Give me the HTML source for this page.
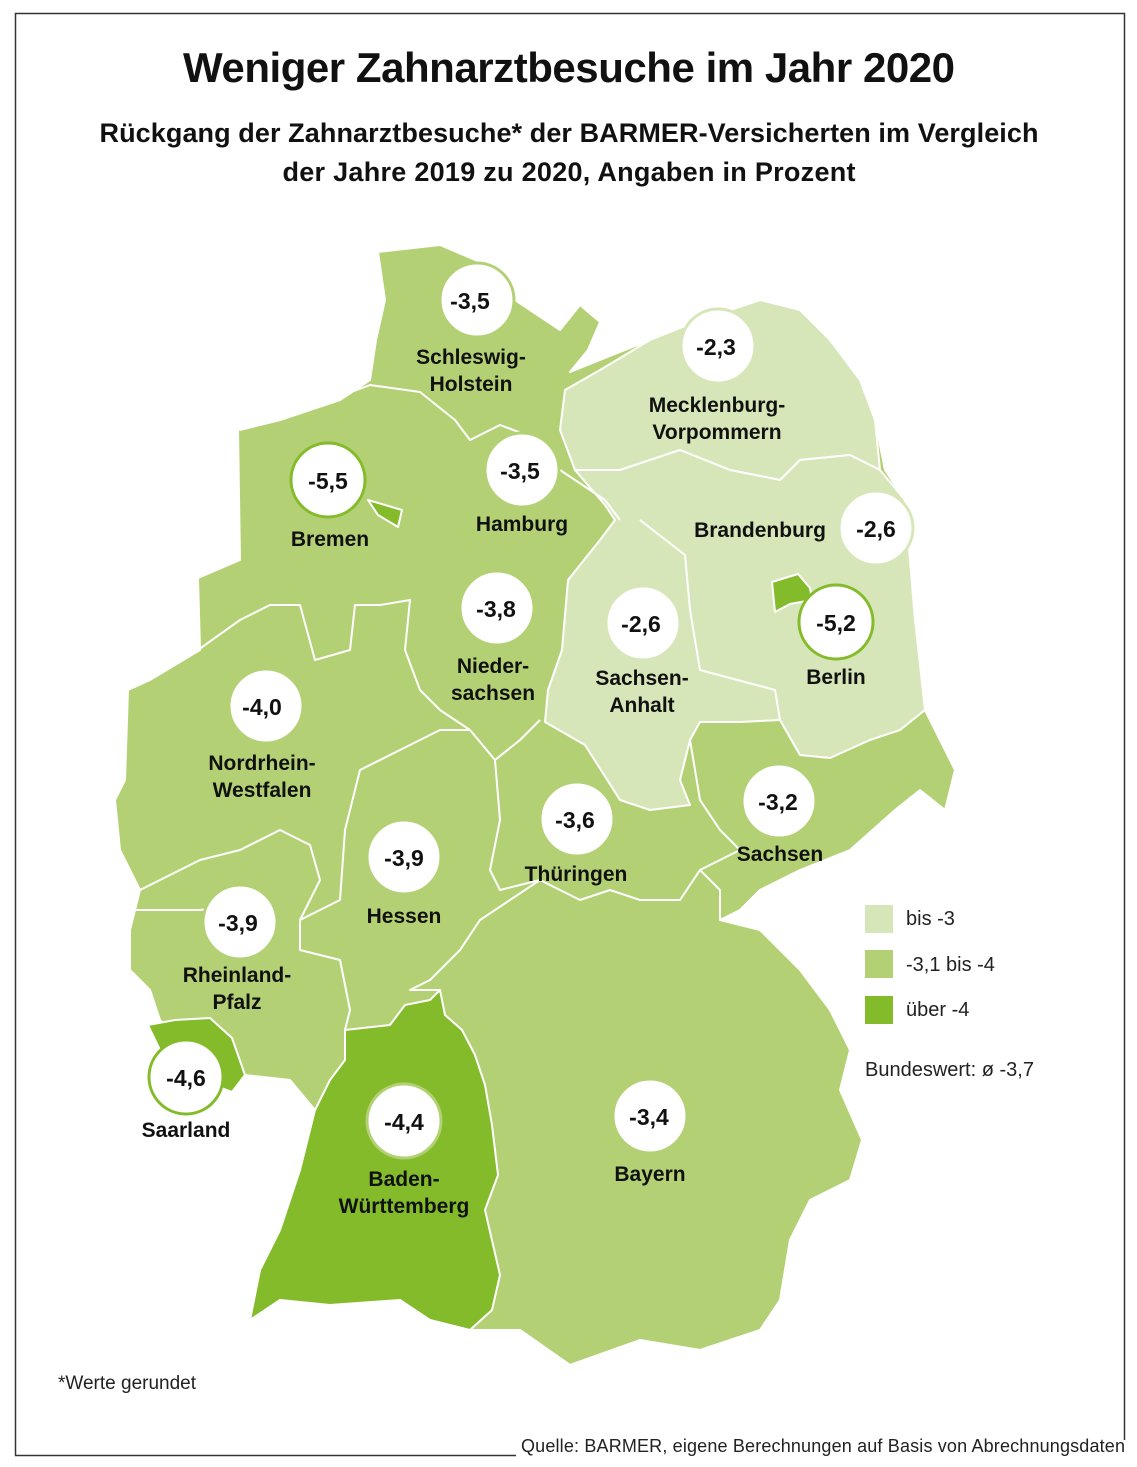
<!DOCTYPE html>
<html><head><meta charset="utf-8"><style>
html,body{margin:0;padding:0;background:#fff;}
svg{display:block;font-family:"Liberation Sans",sans-serif;}
.lb{font-weight:bold;font-size:21px;fill:#111;text-anchor:middle;}
.nm{font-weight:bold;font-size:23px;fill:#111;text-anchor:middle;}
</style></head><body>
<svg width="1137" height="1467" viewBox="0 0 1137 1467">
<rect width="1137" height="1467" fill="#fff"/>
<path d="M15.5 1455.5 V13.5 H1124.5 V1440" fill="none" stroke="#333" stroke-width="1.5"/>
<line x1="15" y1="1455.5" x2="516" y2="1455.5" stroke="#333" stroke-width="1.5"/>
<text x="521" y="1452" font-size="18" textLength="604" fill="#222">Quelle: BARMER, eigene Berechnungen auf Basis von Abrechnungsdaten</text>
<text x="569" y="82" font-size="42" font-weight="bold" text-anchor="middle" textLength="772" fill="#111">Weniger Zahnarztbesuche im Jahr 2020</text>
<text x="569" y="142" font-size="27" font-weight="bold" text-anchor="middle" textLength="939" fill="#111">Rückgang der Zahnarztbesuche* der BARMER-Versicherten im Vergleich</text>
<text x="569" y="181" font-size="27" font-weight="bold" text-anchor="middle" textLength="573" fill="#111">der Jahre 2019 zu 2020, Angaben in Prozent</text>

<g stroke="#fff" stroke-width="2" stroke-linejoin="round">
<path fill="#b3d174" d="M378 252 L440 245 L480 262 L515 300 L560 330 L580 305 L600 322 L588 350 L570 372 L600 360 L650 340 L700 320 L760 300 L800 310 L830 340 L860 380 L875 420 L885 470 L905 500 L910 560 L915 620 L925 710 L940 740 L955 770 L945 810 L920 790 L895 810 L850 850 L800 870 L760 890 L740 910 L720 920 L760 930 L800 970 L830 1010 L850 1050 L840 1090 L862 1140 L850 1180 L810 1200 L790 1240 L780 1300 L760 1330 L700 1350 L640 1340 L570 1365 L520 1330 L470 1330 L430 1320 L400 1300 L330 1305 L280 1300 L250 1320 L260 1270 L280 1230 L300 1170 L315 1110 L290 1080 L245 1075 L230 1045 L180 1040 L160 1020 L150 990 L130 970 L130 930 L140 890 L120 850 L115 800 L125 780 L128 690 L150 680 L200 650 L198 578 L240 560 L238 430 L280 420 L340 400 L370 380 L376 340 L385 300 Z"/>
<path fill="#d7e6b8" d="M565 390 L600 370 L650 340 L700 320 L760 300 L800 310 L830 340 L860 380 L875 420 L880 470 L850 455 L800 460 L780 480 L730 470 L680 450 L620 470 L575 470 L560 430 Z"/>
<path fill="#d7e6b8" d="M575 470 L620 470 L680 450 L730 470 L780 480 L800 460 L850 455 L880 470 L905 500 L910 560 L915 620 L925 710 L900 730 L870 740 L830 758 L800 755 L780 720 L740 722 L700 722 L690 740 L680 780 L690 805 L650 810 L620 800 L585 745 L545 722 L548 690 L562 650 L568 580 L600 540 L615 520 L605 505 Z"/>
<path fill="none" d="M640 520 L685 555 L690 610 L700 670 L775 690 L780 720"/>
<path fill="#84bb2a" d="M345 1030 L390 1025 L405 1005 L430 1000 L440 990 L445 1015 L462 1030 L475 1055 L485 1085 L492 1125 L498 1175 L485 1210 L500 1275 L492 1310 L470 1330 L430 1320 L400 1300 L330 1305 L280 1300 L250 1320 L260 1270 L280 1230 L300 1170 L315 1110 L330 1080 L345 1060 Z"/>
<path fill="#84bb2a" d="M148 1025 L175 1020 L210 1018 L232 1038 L245 1075 L232 1092 L205 1082 L175 1078 L160 1050 Z"/>
<path fill="#84bb2a" d="M772 582 L798 574 L810 588 L812 600 L790 604 L775 612 Z"/>
<path fill="#84bb2a" d="M368 500 L402 510 L398 527 L378 515 Z"/>
<path fill="none" d="M240 430 L280 420 L330 400 L370 385 L420 392 L455 420 L470 440 L500 425 L540 440 L560 470 L605 500 L620 520"/>
<path fill="none" d="M198 650 L240 620 L270 605 L300 605 L315 660 L350 650 L355 605 L380 605 L410 600 L405 650 L420 690 L440 710 L470 730 L495 760 L520 740 L540 720"/>
<path fill="none" d="M140 890 L200 860 L240 850 L280 830 L310 845 L320 880 L300 920 L300 950 L340 960 L350 1010 L345 1030"/>
<path fill="none" d="M130 910 L200 910 L240 905"/>
<path fill="none" d="M300 920 L340 900 L345 830 L360 770 L400 750 L440 730 L470 730"/>
<path fill="none" d="M495 760 L500 820 L490 870 L500 890 L540 880 L580 900 L610 890 L640 900 L680 900 L700 870 L740 850 L720 830 L700 800 L690 740"/>
<path fill="none" d="M540 880 L510 900 L480 920 L460 950 L430 980 L410 990 L440 990"/>
<path fill="none" d="M700 870 L720 890 L720 920"/>
</g>

<g fill="#fff" stroke-width="3">
<circle cx="477" cy="300" r="37" stroke="#b3d174"/>
<circle cx="718" cy="346" r="37" stroke="#d7e6b8"/>
<circle cx="328" cy="480" r="37" stroke="#84bb2a"/>
<circle cx="522" cy="470" r="37" stroke="#b3d174"/>
<circle cx="876" cy="528" r="37" stroke="#d7e6b8"/>
<circle cx="836" cy="622" r="37" stroke="#84bb2a"/>
<circle cx="497" cy="608" r="37" stroke="#b3d174"/>
<circle cx="643" cy="623" r="37" stroke="#d7e6b8"/>
<circle cx="266" cy="706" r="37" stroke="#b3d174"/>
<circle cx="577" cy="819" r="37" stroke="#b3d174"/>
<circle cx="779" cy="801" r="37" stroke="#b3d174"/>
<circle cx="404" cy="857" r="37" stroke="#b3d174"/>
<circle cx="240" cy="922" r="37" stroke="#b3d174"/>
<circle cx="186" cy="1077" r="37" stroke="#84bb2a"/>
<circle cx="404" cy="1121" r="37" stroke="#b3d174"/>
<circle cx="650" cy="1116" r="37" stroke="#b3d174"/>
</g>
<g class="nm">
<text class="nm" x="470" y="309">-3,5</text>
<text class="nm" x="716" y="355">-2,3</text>
<text class="nm" x="328" y="489">-5,5</text>
<text class="nm" x="520" y="479">-3,5</text>
<text class="nm" x="876" y="537">-2,6</text>
<text class="nm" x="836" y="631">-5,2</text>
<text class="nm" x="496" y="617">-3,8</text>
<text class="nm" x="641" y="632">-2,6</text>
<text class="nm" x="262" y="715">-4,0</text>
<text class="nm" x="575" y="828">-3,6</text>
<text class="nm" x="778" y="810">-3,2</text>
<text class="nm" x="404" y="866">-3,9</text>
<text class="nm" x="238" y="931">-3,9</text>
<text class="nm" x="186" y="1086">-4,6</text>
<text class="nm" x="404" y="1130">-4,4</text>
<text class="nm" x="649" y="1125">-3,4</text>
</g>
<g>
<text class="lb" x="471" y="364">Schleswig-</text><text class="lb" x="471" y="391">Holstein</text>
<text class="lb" x="717" y="412">Mecklenburg-</text><text class="lb" x="717" y="439">Vorpommern</text>
<text class="lb" x="330" y="546">Bremen</text>
<text class="lb" x="522" y="531">Hamburg</text>
<text class="lb" x="760" y="537">Brandenburg</text>
<text class="lb" x="836" y="684">Berlin</text>
<text class="lb" x="493" y="673">Nieder-</text><text class="lb" x="493" y="700">sachsen</text>
<text class="lb" x="642" y="685">Sachsen-</text><text class="lb" x="642" y="712">Anhalt</text>
<text class="lb" x="262" y="770">Nordrhein-</text><text class="lb" x="262" y="797">Westfalen</text>
<text class="lb" x="576" y="881">Thüringen</text>
<text class="lb" x="780" y="861">Sachsen</text>
<text class="lb" x="404" y="923">Hessen</text>
<text class="lb" x="237" y="982">Rheinland-</text><text class="lb" x="237" y="1009">Pfalz</text>
<text class="lb" x="186" y="1137">Saarland</text>
<text class="lb" x="404" y="1186">Baden-</text><text class="lb" x="404" y="1213">Württemberg</text>
<text class="lb" x="650" y="1181">Bayern</text>
</g>
<rect x="865" y="905" width="28" height="28" fill="#d7e6b8"/>
<rect x="865" y="950" width="28" height="28" fill="#b3d174"/>
<rect x="865" y="996" width="28" height="28" fill="#84bb2a"/>
<g font-size="20" fill="#222">
<text x="906" y="925">bis -3</text>
<text x="906" y="971">-3,1 bis -4</text>
<text x="906" y="1016">über -4</text>
<text x="865" y="1076">Bundeswert: ø -3,7</text>
<text x="58" y="1389" font-size="19">*Werte gerundet</text>
</g>
</svg>
</body></html>
